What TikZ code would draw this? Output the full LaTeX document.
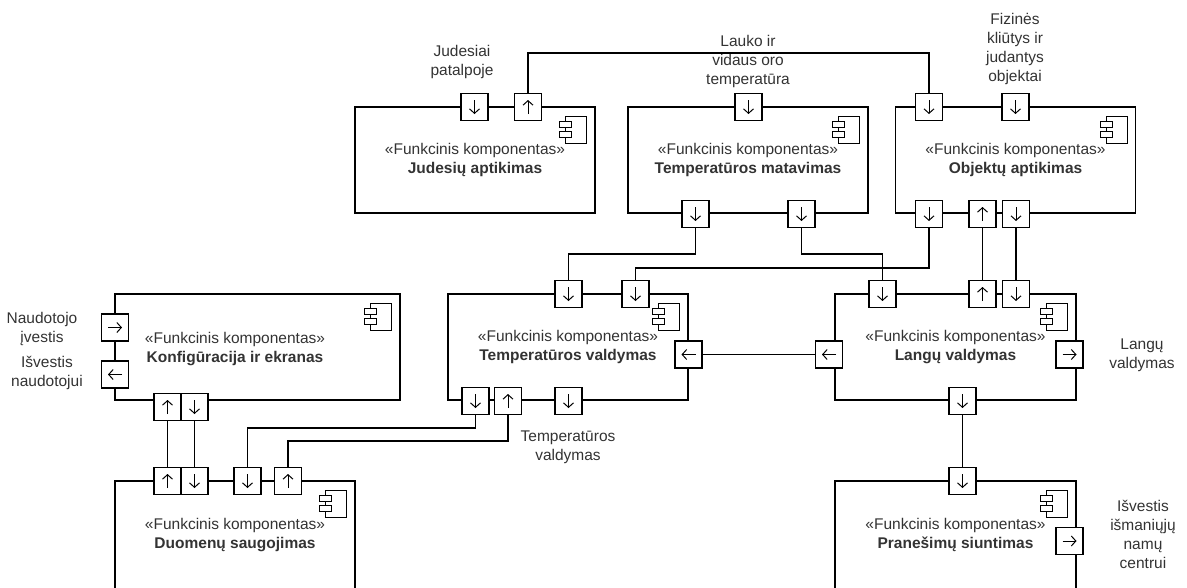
\documentclass[tikz,border=0pt]{standalone}
\usepackage{fontspec}
\setmainfont{Liberation Sans}
\usetikzlibrary{arrows.meta}
\tikzset{
	comp/.style={draw, line width=1.4pt, minimum width=240pt, minimum height=106pt, inner sep=0pt, align=center, text=black!80, font=\fontsize{15.5}{19}\selectfont},
	port/.style={draw, line width=1.4pt, fill=white, minimum size=27pt, inner sep=0pt},
	parrow/.style={line width=1pt, -{Straight Barb[length=4.5pt, width=10pt]}},
	portdown/.style={port, path picture={\draw[parrow] ([yshift=7pt]path picture bounding box.center) -- ([yshift=-7pt]path picture bounding box.center);}},
	portup/.style={port, path picture={\draw[parrow] ([yshift=-7pt]path picture bounding box.center) -- ([yshift=7pt]path picture bounding box.center);}},
	portleft/.style={port, path picture={\draw[parrow] ([xshift=7pt]path picture bounding box.center) -- ([xshift=-7pt]path picture bounding box.center);}},
	portright/.style={port, path picture={\draw[parrow] ([xshift=-7pt]path picture bounding box.center) -- ([xshift=7pt]path picture bounding box.center);}},
	wire/.style={line width=1.4pt},
	lbl/.style={align=center, text=black!80, font=\fontsize{15.5}{19}\selectfont},
}
% small component symbol in the top right corner of a box
\newcommand{\compicon}[1]{%
	\begin{scope}[shift={(#1.north east)}, line width=1pt]
		\draw (-30,10) rectangle (-9,37);
		\draw[fill=white] (-36,15) rectangle (-24,21) (-36,25) rectangle (-24,31);
	\end{scope}}
\newcommand{\stereo}{«Funkcinis komponentas»}

\begin{document}
\begin{tikzpicture}[x=1pt, y=-1pt]
	\useasboundingbox (0,0) rectangle (1187,587);
	\clip (0,0) rectangle (1187,587);

	% the components
	\node[comp] (judesiai) at (475,160) {\stereo\\\textbf{Judesių aptikimas}};
	\node[comp] (tmatav) at (748,160) {\stereo\\\textbf{Temperatūros matavimas}};
	\node[comp] (objektai) at (1015.5,160) {\stereo\\\textbf{Objektų aptikimas}};
	\node[comp, minimum width=285pt] (konfig) at (257.5,347) {};
	\node[lbl] (konfig-txt) at (235,349.5) {\stereo\\\textbf{Konfigūracija ir ekranas}};
	\node[comp] (tvaldym) at (568,347) {\stereo\\\textbf{Temperatūros valdymas}};
	\node[comp, minimum width=241pt] (langai) at (955.5,347) {\stereo\\\textbf{Langų valdymas}};
	\node[comp, minimum height=108pt] (duomenys) at (235,535) {\stereo\\\textbf{Duomenų saugojimas}};
	\node[comp, minimum width=241pt, minimum height=108pt] (pranes) at (955.5,535) {\stereo\\\textbf{Pranešimų siuntimas}};

	\foreach \c in {judesiai, tmatav, objektai, konfig, tvaldym, langai, duomenys, pranes}
		\compicon{\c};

	% ports
	\node[portdown] (jud-in) at (474.5,107) {};
	\node[portup] (jud-out) at (528,107) {};
	\node[portdown] (tmat-in) at (748.5,107) {};
	\node[portdown] (tmat-out1) at (695.5,214) {};
	\node[portdown] (tmat-out2) at (801.5,214) {};
	\node[portdown] (obj-in1) at (929,107) {};
	\node[portdown] (obj-in2) at (1015.5,107) {};
	\node[portdown] (obj-out1) at (929,214) {};
	\node[portup] (obj-up) at (982.5,214) {};
	\node[portdown] (obj-out2) at (1016,214) {};
	\node[portright] (konf-in) at (115,327.5) {};
	\node[portleft] (konf-out) at (115,374.5) {};
	\node[portup] (konf-up) at (167.5,407) {};
	\node[portdown] (konf-down) at (194.5,407) {};
	\node[portdown] (tval-in1) at (568.5,294) {};
	\node[portdown] (tval-in2) at (635.5,294) {};
	\node[portleft] (tval-w) at (688.5,354.5) {};
	\node[portdown] (tval-out1) at (475.5,401) {};
	\node[portup] (tval-up) at (508,401) {};
	\node[portdown] (tval-out2) at (568.5,401) {};
	\node[portdown] (lang-in1) at (882.5,294) {};
	\node[portup] (lang-up) at (982.5,294) {};
	\node[portdown] (lang-in2) at (1016,294) {};
	\node[portleft] (lang-w) at (829,354.5) {};
	\node[portright] (lang-e) at (1069.5,354.5) {};
	\node[portdown] (lang-out) at (962.5,401) {};
	\node[portup] (duom-up1) at (167.5,481) {};
	\node[portdown] (duom-down1) at (194.5,481) {};
	\node[portdown] (duom-down2) at (247.5,481) {};
	\node[portup] (duom-up2) at (288,481) {};
	\node[portdown] (pran-in) at (962.5,481) {};
	\node[portright] (pran-e) at (1069.5,541) {};

	% port labels
	\node[lbl] (lbl-jud) at (462,61.5) {Judesiai\\patalpoje};
	\node[lbl] (lbl-temp) at (748,61) {Lauko ir\\vidaus oro\\temperatūra};
	\node[lbl] (lbl-obj) at (1015,48.5) {Fizinės\\kliūtys ir\\judantys\\objektai};
	\node[lbl] (lbl-nin) at (42,328.5) {Naudotojo\\įvestis};
	\node[lbl] (lbl-nout) at (47,372.5) {Išvestis\\naudotojui};
	\node[lbl] (lbl-tval) at (568,447.5) {Temperatūros\\valdymas};
	\node[lbl] (lbl-lang) at (1142,355) {Langų\\valdymas};
	\node[lbl] (lbl-pran) at (1143,534.5) {Išvestis\\išmaniųjų\\namų\\centrui};

	% connectors
	\coordinate (rail-top) at (0,53);
	\coordinate (rail-a) at (0,254);
	\coordinate (rail-b) at (0,268);
	\coordinate (rail-c) at (0,428);
	\coordinate (rail-d) at (0,441);
	\draw[wire] (jud-out.north) -- (jud-out.north |- rail-top) -| (obj-in1.north);
	\draw[wire] (tmat-out1.south) -- (tmat-out1.south |- rail-a) -| (tval-in1.north);
	\draw[wire] (tmat-out2.south) -- (tmat-out2.south |- rail-a) -| (lang-in1.north);
	\draw[wire] (obj-out1.south) -- (obj-out1.south |- rail-b) -| (tval-in2.north);
	\draw[wire] (obj-up.south) -- (lang-up.north);
	\draw[wire] (obj-out2.south) -- (lang-in2.north);
	\draw[wire] (lang-w.west) -- (tval-w.east);
	\draw[wire] (lang-out.south) -- (pran-in.north);
	\draw[wire] (konf-up.south) -- (duom-up1.north);
	\draw[wire] (konf-down.south) -- (duom-down1.north);
	\draw[wire] (tval-out1.south) -- (tval-out1.south |- rail-c) -| (duom-down2.north);
	\draw[wire] (tval-up.south) -- (tval-up.south |- rail-d) -| (duom-up2.north);
\end{tikzpicture}
\end{document}
